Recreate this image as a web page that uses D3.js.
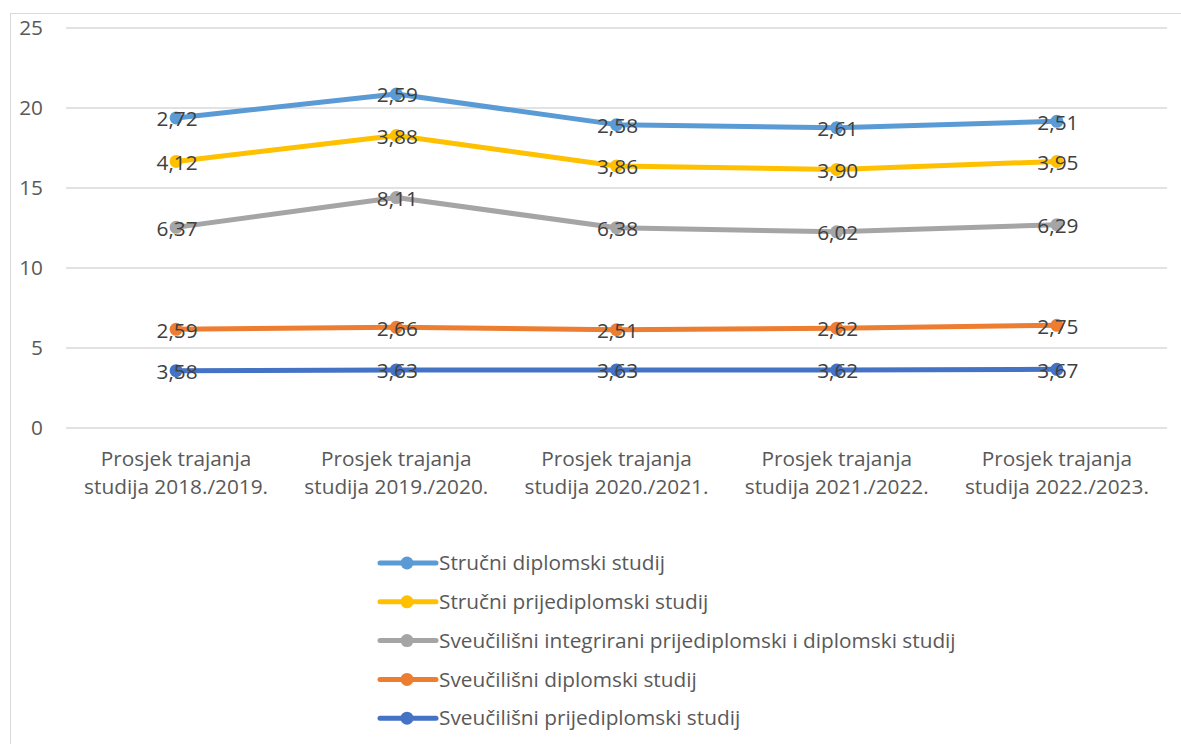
<!DOCTYPE html>
<html>
<head>
<meta charset="utf-8">
<script src="https://cdn.jsdelivr.net/npm/d3@7"></script>
<style>
  html, body { margin: 0; padding: 0; background: #fff; }
  svg { display: block; }
</style>
</head>
<body>
<div id="chart"></div>
<script>
const FONT = '"Open Sans", Lato, sans-serif';
const FS = 20.8;
const categories = ['2018./2019.', '2019./2020.', '2020./2021.', '2021./2022.', '2022./2023.'];
const yTicks = [0, 5, 10, 15, 20, 25];
// stacking order, bottom to top
const seriesNames = [
  'Sveučilišni prijediplomski studij',
  'Sveučilišni diplomski studij',
  'Sveučilišni integrirani prijediplomski i diplomski studij',
  'Stručni prijediplomski studij',
  'Stručni diplomski studij'
];
const sveucPrijed = [3.58, 3.63, 3.63, 3.62, 3.67];
const sveucDipl = [2.59, 2.66, 2.51, 2.62, 2.75];
const integrirani = [6.37, 8.11, 6.38, 6.02, 6.29];
const strucniPrijed = [4.12, 3.88, 3.86, 3.90, 3.95];
const strucniDipl = [2.72, 2.59, 2.58, 2.61, 2.51];
const seriesValues = [sveucPrijed, sveucDipl, integrirani, strucniPrijed, strucniDipl];
const colors = ['#4472C4', '#ED7D31', '#A5A5A5', '#FFC000', '#5B9BD5'];
const legendOrder = [4, 3, 2, 1, 0];

const W = 1181, H = 744;
const m = { l: 66, r: 14, t: 28, b: 316 };
const svg = d3.select('#chart').append('svg').attr('width', W).attr('height', H);

// chart frame (clipped by the picture on right and bottom)
svg.append('rect').attr('x', 10.5).attr('y', 13.5).attr('width', 1300).attr('height', 900)
  .attr('fill', 'none').attr('stroke', '#D9D9D9').attr('stroke-width', 1);

const x = d3.scaleBand().domain(categories).range([m.l, W - m.r]);
const y = d3.scaleLinear().domain([0, 25]).range([H - m.b, m.t]);

// gridlines
svg.append('g').selectAll('line').data(yTicks).join('line')
  .attr('x1', m.l).attr('x2', W - m.r)
  .attr('y1', (d) => y(d)).attr('y2', (d) => y(d))
  .attr('stroke', '#D9D9D9').attr('stroke-width', 1.5);
svg.append('g').selectAll('text').data(yTicks).join('text')
  .attr('x', 43).attr('y', (d) => y(d)).attr('dy', '0.35em').attr('text-anchor', 'end')
  .attr('font-family', FONT).attr('font-size', FS).attr('fill', '#595959')
  .text((d) => d);

// category labels
const catG = svg.append('g').selectAll('text').data(categories).join('text')
  .attr('x', (d) => x(d) + x.bandwidth() / 2).attr('text-anchor', 'middle')
  .attr('font-family', FONT).attr('font-size', FS).attr('fill', '#595959');
catG.append('tspan').attr('x', (d) => x(d) + x.bandwidth() / 2).attr('y', 466).text('Prosjek trajanja');
catG.append('tspan').attr('x', (d) => x(d) + x.bandwidth() / 2).attr('y', 494).text((d) => 'studija ' + d);

// stacked data
const table = categories.map((c, i) => {
  const row = { cat: c };
  seriesNames.forEach((s, k) => { row[s] = seriesValues[k][i]; });
  return row;
});
const stacked = d3.stack().keys(seriesNames)(table);

const line = d3.line().x((d) => x(d.data.cat) + x.bandwidth() / 2).y((d) => y(d[1]));
const fmt = (v) => d3.format('.2f')(v).replace('.', ',');

const lineG = svg.append('g');
const dotG = svg.append('g');
const lblG = svg.append('g');
stacked.forEach((s, k) => {
  lineG.append('path').datum(s).attr('d', line)
    .attr('fill', 'none').attr('stroke', colors[k]).attr('stroke-width', 5)
    .attr('stroke-linejoin', 'round').attr('stroke-linecap', 'round');
  dotG.append('g').selectAll('circle').data(s).join('circle')
    .attr('cx', (d) => x(d.data.cat) + x.bandwidth() / 2).attr('cy', (d) => y(d[1]))
    .attr('r', 6.5).attr('fill', colors[k]);
  lblG.append('g').selectAll('text').data(s).join('text')
    .attr('x', (d) => x(d.data.cat) + x.bandwidth() / 2 + 1).attr('y', (d) => y(d[1]) + 1)
    .attr('dy', '0.35em').attr('text-anchor', 'middle')
    .attr('font-family', FONT).attr('font-size', FS).attr('fill', '#404040')
    .text((d) => fmt(d[1] - d[0]));
});

// legend
const leg = svg.append('g');
legendOrder.forEach((k, i) => {
  const g = leg.append('g').attr('transform', `translate(380,${563 + i * 38.8})`);
  g.append('line').attr('x1', 0).attr('x2', 56).attr('y1', 0).attr('y2', 0)
    .attr('stroke', colors[k]).attr('stroke-width', 5).attr('stroke-linecap', 'round');
  g.append('circle').attr('cx', 27).attr('cy', 0).attr('r', 6.5).attr('fill', colors[k]);
  g.append('text').attr('x', 59).attr('y', 0).attr('dy', '0.35em')
    .attr('font-family', FONT).attr('font-size', FS).attr('fill', '#595959')
    .text(seriesNames[k]);
});
</script>
</body>
</html>
